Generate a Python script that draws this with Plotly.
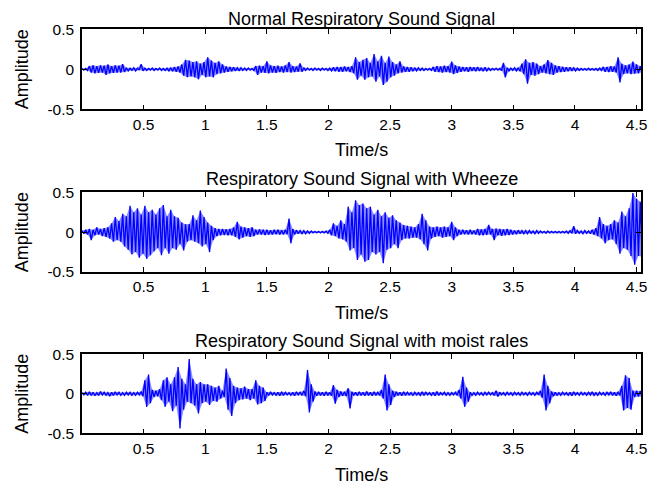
import numpy as np
import plotly.graph_objects as go

# ---- data (envelope of each signal, read per 0.03 s bin: max and min amplitude) ----
bin_width = 0.03
time_s = np.round(np.arange(152) * bin_width, 2)

normal_hi = [
    0.01, 0.01, 0.04, 0.05, 0.04, 0.05, 0.045, 0.06, 0.04, 0.05,
    0.045, 0.065, 0.02, 0.015, 0.02, 0.015, 0.065, 0.015, 0.01, 0.015,
    0.01, 0.015, 0.01, 0.015, 0.02, 0.03, 0.035, 0.06, 0.12, 0.11,
    0.09, 0.1, 0.07, 0.09, 0.15, 0.11, 0.08, 0.1, 0.06, 0.035,
    0.03, 0.025, 0.02, 0.02, 0.015, 0.015, 0.01, 0.04, 0.045, 0.04,
    0.1, 0.05, 0.04, 0.045, 0.035, 0.05, 0.09, 0.04, 0.035, 0.075,
    0.02, 0.015, 0.01, 0.015, 0.01, 0.015, 0.01, 0.015, 0.025, 0.03,
    0.03, 0.035, 0.03, 0.04, 0.15, 0.09, 0.12, 0.14, 0.08, 0.19,
    0.1, 0.17, 0.08, 0.16, 0.09, 0.06, 0.1, 0.035, 0.03, 0.025,
    0.02, 0.02, 0.015, 0.01, 0.01, 0.03, 0.04, 0.035, 0.045, 0.04,
    0.095, 0.05, 0.035, 0.03, 0.025, 0.03, 0.025, 0.03, 0.02, 0.025,
    0.015, 0.01, 0.015, 0.01, 0.08, 0.02, 0.015, 0.02, 0.02, 0.07,
    0.125, 0.08, 0.09, 0.07, 0.04, 0.06, 0.115, 0.08, 0.05, 0.04,
    0.03, 0.025, 0.025, 0.02, 0.015, 0.01, 0.01, 0.015, 0.01, 0.01,
    0.015, 0.03, 0.03, 0.04, 0.035, 0.15, 0.07, 0.05, 0.06, 0.095,
    0.06, 0.04,
]
normal_lo = [
    -0.01, -0.015, -0.04, -0.05, -0.045, -0.04, -0.07, -0.05, -0.045, -0.04,
    -0.04, -0.035, -0.02, -0.015, -0.02, -0.01, -0.02, -0.015, -0.01, -0.015,
    -0.01, -0.015, -0.015, -0.02, -0.025, -0.03, -0.04, -0.08, -0.1, -0.09,
    -0.1, -0.125, -0.07, -0.1, -0.09, -0.1, -0.06, -0.05, -0.04, -0.03,
    -0.025, -0.02, -0.02, -0.015, -0.015, -0.01, -0.015, -0.07, -0.04, -0.045,
    -0.05, -0.04, -0.045, -0.035, -0.04, -0.035, -0.04, -0.035, -0.03, -0.03,
    -0.015, -0.01, -0.015, -0.01, -0.015, -0.01, -0.015, -0.02, -0.025, -0.03,
    -0.03, -0.025, -0.035, -0.05, -0.13, -0.08, -0.13, -0.1, -0.09, -0.155,
    -0.09, -0.195, -0.155, -0.1, -0.08, -0.05, -0.04, -0.03, -0.03, -0.025,
    -0.02, -0.015, -0.015, -0.01, -0.015, -0.03, -0.035, -0.04, -0.035, -0.04,
    -0.06, -0.045, -0.03, -0.025, -0.03, -0.02, -0.025, -0.02, -0.025, -0.02,
    -0.015, -0.01, -0.01, -0.015, -0.1, -0.02, -0.015, -0.02, -0.025, -0.06,
    -0.18, -0.07, -0.08, -0.06, -0.04, -0.05, -0.06, -0.07, -0.04, -0.035,
    -0.03, -0.025, -0.02, -0.02, -0.015, -0.01, -0.01, -0.01, -0.01, -0.015,
    -0.015, -0.03, -0.035, -0.03, -0.04, -0.165, -0.06, -0.05, -0.06, -0.055,
    -0.05, -0.04,
]

wheeze_hi = [
    0.02, 0.03, 0.04, 0.03, 0.06, 0.04, 0.05, 0.06, 0.11, 0.19,
    0.14, 0.23, 0.2, 0.33, 0.25, 0.3, 0.22, 0.33, 0.25, 0.28,
    0.22, 0.3, 0.34, 0.2, 0.28, 0.2, 0.18, 0.12, 0.1, 0.1,
    0.21, 0.15, 0.27, 0.19, 0.12, 0.08, 0.05, 0.04, 0.04, 0.035,
    0.04, 0.06, 0.13, 0.07, 0.06, 0.05, 0.06, 0.03, 0.035, 0.03,
    0.03, 0.025, 0.03, 0.03, 0.025, 0.03, 0.17, 0.04, 0.025, 0.02,
    0.02, 0.015, 0.015, 0.01, 0.01, 0.01, 0.015, 0.03, 0.11, 0.08,
    0.15, 0.1, 0.32, 0.25, 0.4, 0.34, 0.36, 0.3, 0.32, 0.22,
    0.28, 0.2, 0.25, 0.18, 0.21, 0.15, 0.12, 0.09, 0.08, 0.07,
    0.06, 0.1, 0.23, 0.15, 0.07, 0.06, 0.07, 0.06, 0.07, 0.06,
    0.13, 0.06, 0.03, 0.03, 0.025, 0.03, 0.02, 0.04, 0.035, 0.04,
    0.09, 0.04, 0.045, 0.04, 0.035, 0.04, 0.03, 0.02, 0.025, 0.02,
    0.02, 0.02, 0.015, 0.02, 0.015, 0.01, 0.015, 0.01, 0.01, 0.01,
    0.01, 0.015, 0.02, 0.075, 0.02, 0.015, 0.02, 0.015, 0.03, 0.05,
    0.19, 0.1, 0.08, 0.1, 0.15, 0.12, 0.26, 0.2, 0.3, 0.49,
    0.42, 0.38,
]
wheeze_lo = [
    -0.02, -0.03, -0.1, -0.04, -0.03, -0.05, -0.06, -0.08, -0.12, -0.1,
    -0.12, -0.18, -0.22, -0.28, -0.25, -0.32, -0.27, -0.335, -0.29, -0.24,
    -0.2, -0.29, -0.2, -0.27, -0.2, -0.22, -0.15, -0.23, -0.12, -0.1,
    -0.12, -0.14, -0.18, -0.15, -0.25, -0.1, -0.05, -0.04, -0.035, -0.04,
    -0.04, -0.06, -0.09, -0.07, -0.05, -0.06, -0.05, -0.03, -0.03, -0.035,
    -0.03, -0.03, -0.025, -0.03, -0.03, -0.025, -0.14, -0.03, -0.02, -0.02,
    -0.02, -0.015, -0.01, -0.01, -0.01, -0.01, -0.015, -0.04, -0.05, -0.08,
    -0.09, -0.12, -0.23, -0.2, -0.35, -0.28, -0.37, -0.35, -0.25, -0.28,
    -0.25, -0.39, -0.22, -0.2, -0.15, -0.2, -0.1, -0.08, -0.08, -0.07,
    -0.07, -0.09, -0.15, -0.23, -0.08, -0.06, -0.05, -0.07, -0.06, -0.05,
    -0.1, -0.05, -0.03, -0.025, -0.03, -0.025, -0.03, -0.04, -0.04, -0.035,
    -0.03, -0.1, -0.04, -0.045, -0.04, -0.035, -0.03, -0.025, -0.02, -0.02,
    -0.02, -0.015, -0.02, -0.015, -0.01, -0.015, -0.01, -0.01, -0.01, -0.01,
    -0.01, -0.015, -0.015, -0.02, -0.015, -0.02, -0.015, -0.02, -0.03, -0.05,
    -0.08, -0.14, -0.1, -0.09, -0.15, -0.27, -0.2, -0.22, -0.3, -0.41,
    -0.3, -0.31,
]

rales_hi = [
    0.015, 0.02, 0.025, 0.02, 0.015, 0.03, 0.02, 0.015, 0.02, 0.025,
    0.02, 0.015, 0.02, 0.02, 0.015, 0.02, 0.03, 0.17, 0.245, 0.05,
    0.04, 0.06, 0.17, 0.21, 0.12, 0.21, 0.34, 0.19, 0.12, 0.44,
    0.19, 0.12, 0.15, 0.12, 0.12, 0.1, 0.08, 0.1, 0.04, 0.32,
    0.2, 0.1, 0.08, 0.07, 0.09, 0.06, 0.06, 0.17, 0.1, 0.08,
    0.02, 0.025, 0.015, 0.02, 0.025, 0.02, 0.015, 0.02, 0.025, 0.02,
    0.04, 0.3, 0.12, 0.03, 0.025, 0.02, 0.025, 0.02, 0.11, 0.05,
    0.03, 0.025, 0.07, 0.025, 0.02, 0.025, 0.02, 0.03, 0.02, 0.025,
    0.02, 0.05, 0.245, 0.12, 0.04, 0.025, 0.02, 0.025, 0.02, 0.015,
    0.02, 0.015, 0.025, 0.02, 0.015, 0.02, 0.03, 0.015, 0.02, 0.015,
    0.015, 0.02, 0.05, 0.215, 0.08, 0.02, 0.015, 0.02, 0.015, 0.02,
    0.02, 0.015, 0.04, 0.02, 0.015, 0.02, 0.015, 0.02, 0.015, 0.02,
    0.015, 0.02, 0.015, 0.02, 0.04, 0.245, 0.1, 0.03, 0.02, 0.015,
    0.02, 0.015, 0.02, 0.025, 0.015, 0.02, 0.015, 0.02, 0.025, 0.015,
    0.02, 0.015, 0.02, 0.025, 0.02, 0.025, 0.1, 0.235, 0.2, 0.04,
    0.04, 0.035,
]
rales_lo = [
    -0.015, -0.02, -0.02, -0.025, -0.02, -0.015, -0.02, -0.03, -0.02, -0.015,
    -0.02, -0.02, -0.015, -0.02, -0.02, -0.015, -0.03, -0.165, -0.12, -0.04,
    -0.03, -0.08, -0.165, -0.1, -0.22, -0.15, -0.44, -0.2, -0.1, -0.12,
    -0.15, -0.25, -0.12, -0.1, -0.14, -0.09, -0.1, -0.06, -0.04, -0.2,
    -0.28, -0.12, -0.08, -0.07, -0.06, -0.08, -0.06, -0.135, -0.12, -0.09,
    -0.02, -0.015, -0.02, -0.025, -0.02, -0.015, -0.02, -0.025, -0.015, -0.02,
    -0.03, -0.235, -0.1, -0.025, -0.02, -0.025, -0.02, -0.025, -0.125, -0.04,
    -0.025, -0.03, -0.185, -0.02, -0.025, -0.02, -0.025, -0.02, -0.025, -0.02,
    -0.02, -0.06, -0.21, -0.14, -0.04, -0.02, -0.025, -0.02, -0.015, -0.02,
    -0.015, -0.02, -0.02, -0.015, -0.02, -0.025, -0.02, -0.015, -0.02, -0.02,
    -0.015, -0.02, -0.06, -0.165, -0.1, -0.02, -0.02, -0.015, -0.02, -0.015,
    -0.015, -0.02, -0.035, -0.015, -0.02, -0.015, -0.02, -0.015, -0.02, -0.015,
    -0.02, -0.015, -0.02, -0.015, -0.05, -0.21, -0.12, -0.03, -0.02, -0.02,
    -0.015, -0.02, -0.025, -0.015, -0.02, -0.015, -0.02, -0.015, -0.02, -0.02,
    -0.015, -0.02, -0.015, -0.02, -0.025, -0.02, -0.21, -0.18, -0.2, -0.04,
    -0.035, -0.04,
]

titles = [
    "Normal Respiratory Sound Signal",
    "Respiratory Sound Signal with Wheeze",
    "Respiratory Sound Signal with moist rales",
]
x_ticks = [0.5, 1, 1.5, 2, 2.5, 3, 3.5, 4, 4.5]
x_tick_labels = ["0.5", "1", "1.5", "2", "2.5", "3", "3.5", "4", "4.5"]
y_ticks = [-0.5, 0, 0.5]
y_tick_labels = ["-0.5", "0", "0.5"]
x_label = "Time/s"
y_label = "Amplitude"

# ---- layout geometry ----
# The page body has an 8px margin, so the figure is drawn 8px smaller and
# every screen position below is shifted by that offset.
OFF = 8
W, H = 670 - OFF, 490 - OFF
plot_left, plot_right = 82 - OFF, 641 - OFF
panel_tops = [29.3 - OFF, 192.3 - OFF, 354.3 - OFF]
panel_bottoms = [109.3 - OFF, 272.0 - OFF, 433.3 - OFF]
title_y = [17 - OFF, 179 - OFF, 341 - OFF]
xlabel_y = [150 - OFF, 313 - OFF, 475 - OFF]
ylabel_x = 22 - OFF

FONT = "Liberation Sans, Arial, Helvetica, sans-serif"
BLUE = "rgb(0,0,255)"


def waveform(hi, lo):
    xs, ys = [], []
    for t, h, l in zip(time_s, hi, lo):
        xs += [t, t + bin_width / 2]
        ys += [h, l]
    return xs, ys


def envelope(hi, lo):
    xs = list(time_s) + [t + bin_width / 2 for t in time_s][::-1]
    ys = list(hi) + list(lo)[::-1]
    return xs, ys


fig = go.Figure()
series = [(normal_hi, normal_lo), (wheeze_hi, wheeze_lo), (rales_hi, rales_lo)]
annotations = []
for i, (hi, lo) in enumerate(series):
    suffix = "" if i == 0 else str(i + 1)
    ex, ey = envelope(hi, lo)
    fig.add_trace(go.Scatter(
        x=ex, y=ey, mode="lines", fill="toself",
        fillcolor="rgba(0,0,255,0.45)", line=dict(width=0),
        xaxis="x" + suffix, yaxis="y" + suffix, showlegend=False,
        hoverinfo="skip",
    ))
    xs, ys = waveform(hi, lo)
    fig.add_trace(go.Scatter(
        x=xs, y=ys, mode="lines",
        line=dict(color=BLUE, width=1.3),
        xaxis="x" + suffix, yaxis="y" + suffix, showlegend=False,
        hoverinfo="skip",
    ))
    ydom = [1 - panel_bottoms[i] / H, 1 - panel_tops[i] / H]
    fig.update_layout({
        "xaxis" + suffix: dict(
            domain=[plot_left / W, plot_right / W], range=[0, 4.536],
            anchor="y" + suffix, tickvals=x_ticks, ticktext=x_tick_labels,
            ticks="inside", ticklen=5, tickcolor="black", tickwidth=1,
            showline=True, linecolor="black", linewidth=1.5, mirror="ticks",
            showgrid=False, zeroline=False, automargin=False,
            ticklabelstandoff=0,
            tickfont=dict(family=FONT, size=15.5, color="black"),
        ),
        "yaxis" + suffix: dict(
            domain=ydom, range=[-0.5, 0.5],
            anchor="x" + suffix, tickvals=y_ticks, ticktext=y_tick_labels,
            ticks="inside", ticklen=5, tickcolor="black", tickwidth=1,
            showline=True, linecolor="black", linewidth=1.5, mirror="ticks",
            showgrid=False, zeroline=False, automargin=False,
            ticklabelstandoff=3,
            tickfont=dict(family=FONT, size=15.5, color="black"),
        ),
    })
    mid_y = (panel_tops[i] + panel_bottoms[i]) / 2
    title_pos = dict(y=1, yanchor="top") if i == 0 else dict(y=1 - title_y[i] / H, yanchor="middle")
    annotations += [
        dict(text=titles[i], x=(plot_left + plot_right) / 2 / W,
             xref="paper", yref="paper", xanchor="center", borderpad=0,
             showarrow=False, font=dict(family=FONT, size=18, color="black"),
             **title_pos),
        dict(text=x_label, x=(plot_left + plot_right) / 2 / W, y=1 - xlabel_y[i] / H,
             xref="paper", yref="paper", xanchor="center", yanchor="middle",
             showarrow=False, font=dict(family=FONT, size=18, color="black")),
        dict(text=y_label, x=ylabel_x / W, y=1 - mid_y / H, textangle=-90,
             xref="paper", yref="paper", xanchor="center", yanchor="middle",
             showarrow=False, font=dict(family=FONT, size=18, color="black")),
    ]

fig.update_layout(
    width=W, height=H,
    margin=dict(l=0, r=0, t=0, b=0, autoexpand=False),
    paper_bgcolor="white", plot_bgcolor="white",
    annotations=annotations,
)

fig.write_html("out.html")
